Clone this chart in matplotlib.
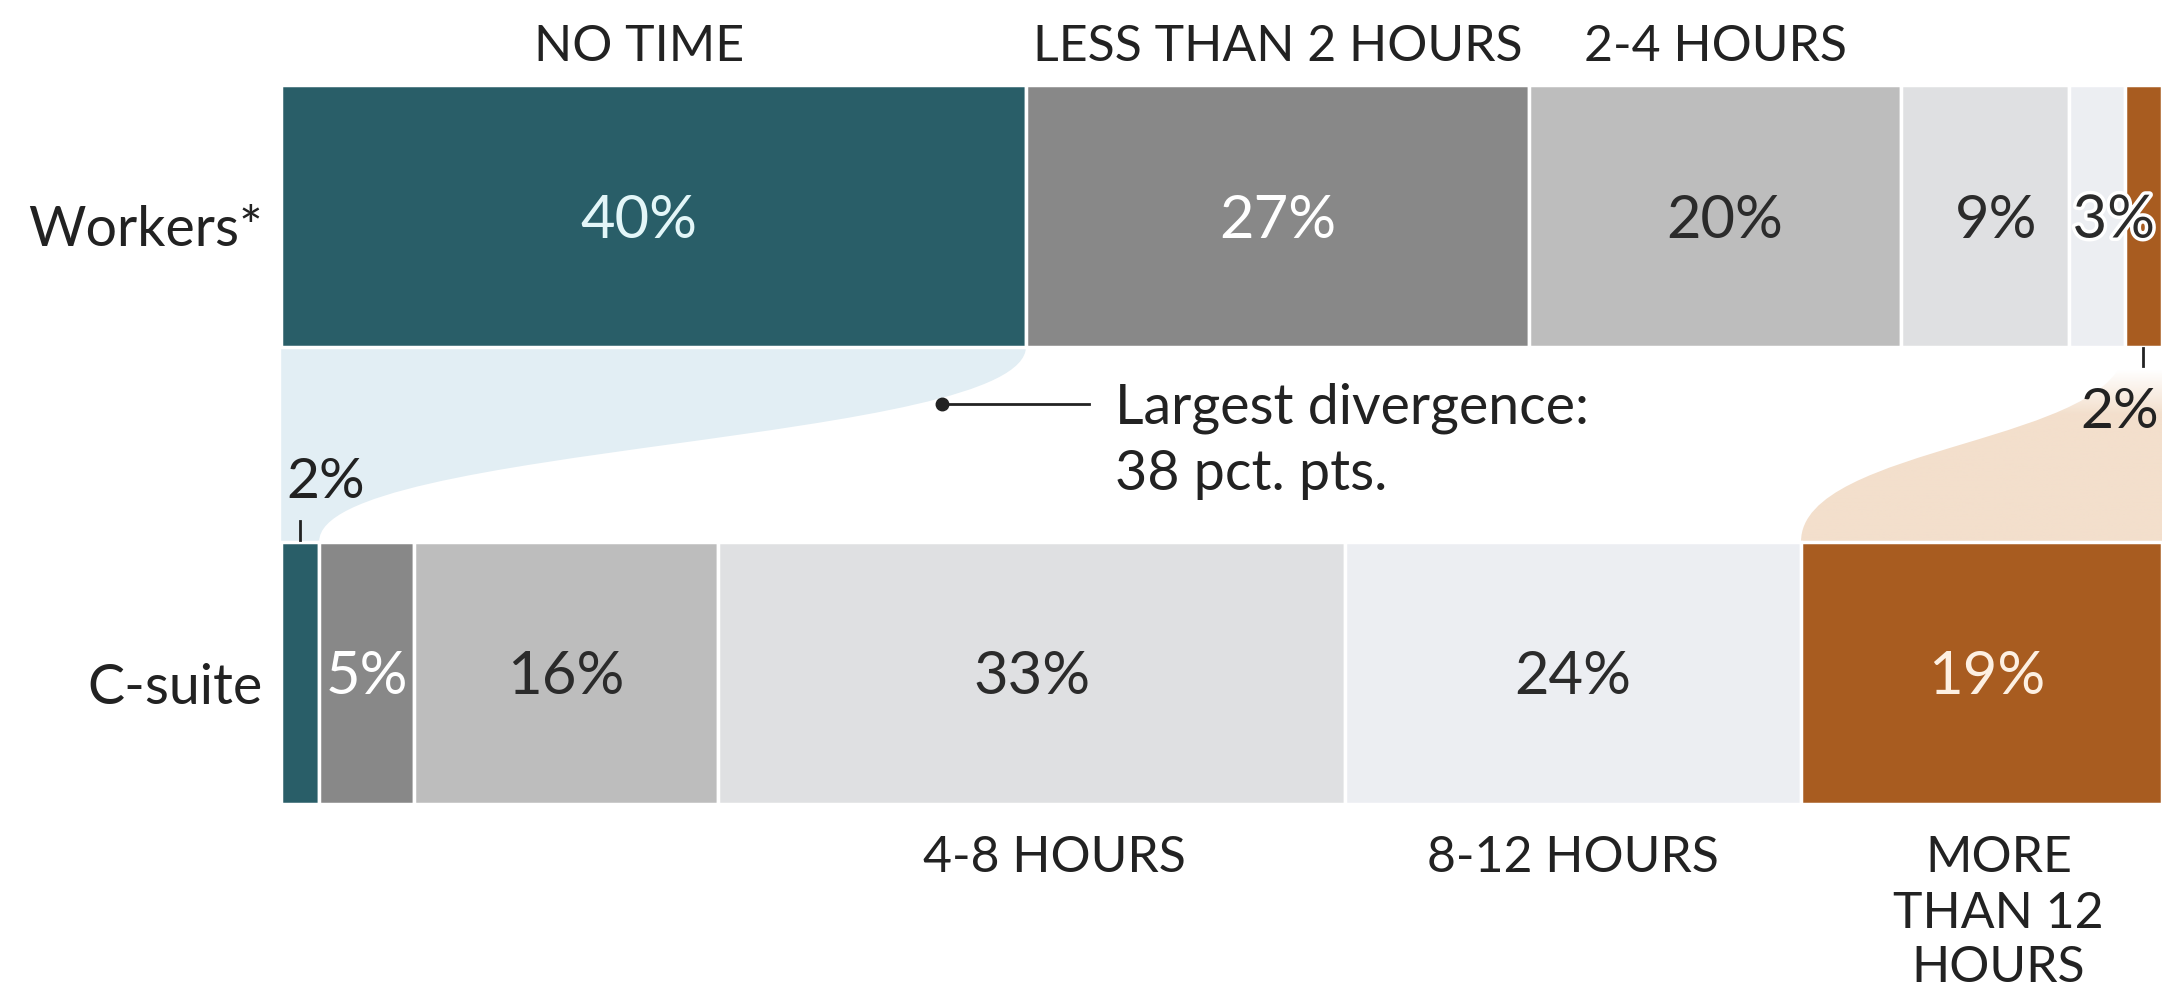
import numpy as np
import matplotlib.pyplot as plt
from matplotlib.path import Path
from matplotlib.patches import PathPatch
from matplotlib.colors import to_rgb
import matplotlib.patheffects as pe

plt.rcParams['font.family'] = ['Lato', 'DejaVu Sans']

# Données (en %)
groups = ["Workers*", "C-suite"]
categories = ["NO TIME", "LESS THAN 2 HOURS", "2-4 HOURS",
              "4-8 HOURS", "8-12 HOURS", "MORE\nTHAN 12\nHOURS"]
workers = np.array([40, 27, 20, 9, 3, 2])
csuite = np.array([2, 5, 16, 33, 24, 19])

colors = ["#295e68", "#888888", "#bdbdbd", "#dfe0e2", "#eceef2", "#a85c20"]
label_colors = ["#e3f6f8", "white", "#2b2b2b", "#2b2b2b", "#2b2b2b", "#fdf0e2"]
blue_flow = "#e2eef4"
peach_flow = "#f3dfcc"
dark = "#222222"

# mise en page (axe y en pixels, axe x en %)
W, H = 2162, 994
X0 = -14.95                 # bord gauche de la figure, en %
row_y = [215.5, 672.5]      # centres des barres
bar_h = 262

fig = plt.figure(figsize=(W / 100, H / 100), dpi=100)
ax = fig.add_axes([0, 0, 1, 1])


def px(x):
    # pixel horizontal -> coordonnée en %
    return x / (W / (100 - X0)) + X0


def ribbon(xa0, xb0, xa1, xb1, ytop, ybot, k=0.5):
    h = ybot - ytop
    verts = [(xa0, ytop), (xa0, ytop + k * h), (xa1, ybot - k * h), (xa1, ybot),
             (xb1, ybot), (xb1, ybot - k * h), (xb0, ytop + k * h), (xb0, ytop),
             (xa0, ytop)]
    codes = [Path.MOVETO, Path.CURVE4, Path.CURVE4, Path.CURVE4,
             Path.LINETO, Path.CURVE4, Path.CURVE4, Path.CURVE4, Path.CLOSEPOLY]
    return Path(verts, codes)


def lines(x, y0, txt, step, **kw):
    # une ligne de texte par appel, alignées sur leur ligne de base
    for k, s in enumerate(txt.split("\n")):
        ax.text(x, y0 + k * step, s, va="baseline", **kw)


rows = []
for i, vals in enumerate([workers, csuite]):
    shares = vals / vals.sum() * 100
    lefts = np.cumsum(shares) - shares
    rows.append((vals, shares, lefts))
    ax.barh(row_y[i], shares, left=lefts, height=bar_h, color=colors,
            edgecolor="white", linewidth=2.5, zorder=2)

top_bottom = row_y[0] + bar_h / 2
bot_top = row_y[1] - bar_h / 2

# flux "NO TIME"
(_, sw, lw_), (_, sc, lc) = rows
p = ribbon(lw_[0], lw_[0] + sw[0], lc[0], lc[0] + sc[0], top_bottom, bot_top)
ax.add_patch(PathPatch(p, facecolor=blue_flow, edgecolor="none", zorder=1))

# flux "MORE THAN 12 HOURS" (dégradé)
p = ribbon(lw_[5], lw_[5] + sw[5], lc[5], lc[5] + sc[5], top_bottom, bot_top)
patch = PathPatch(p, facecolor="none", edgecolor="none")
ax.add_patch(patch)
n = 200
grad = np.zeros((n, 1, 4))
grad[..., :3] = to_rgb(peach_flow)
yy = np.linspace(top_bottom, bot_top, n)
grad[:, 0, 3] = np.clip((yy - 370) / 45, 0, 1)
im = ax.imshow(grad, extent=(lc[5], 101, bot_top, top_bottom), aspect="auto",
               origin="upper", zorder=1)
im.set_clip_path(patch)

# étiquettes des segments
nudge = [[-0.8, 0, 0.5, 0.6, 0.9, 0], [0, 0, 0, 0, 0, 0.3]]
for i, (vals, shares, lefts) in enumerate(rows):
    for j, v in enumerate(vals):
        if v < 3:
            continue
        t = ax.text(lefts[j] + shares[j] / 2 + nudge[i][j], row_y[i] + 22, f"{v}%",
                    ha="center", va="baseline", fontsize=43, color=label_colors[j], zorder=3)
        if shares[j] < 4:
            t.set_path_effects([pe.withStroke(linewidth=5, foreground="white")])

# petites valeurs de 2 %
xc = lc[0] + sc[0] / 2
ax.plot([xc, xc], [bot_top - 21, bot_top - 2], color=dark, lw=2, zorder=3)
ax.text(lc[0] + 0.25, bot_top - 43, f"{csuite[0]}%", ha="left", va="baseline",
        fontsize=41, color=dark, zorder=3)
xw = lw_[5] + sw[5] / 2
ax.plot([xw, xw], [top_bottom + 1, top_bottom + 19], color=dark, lw=2, zorder=3)
ax.text(px(2159), top_bottom + 82, f"{workers[5]}%", ha="right", va="baseline",
        fontsize=41, color=dark, zorder=3)

# noms des lignes
for i, g in enumerate(groups):
    ax.text(px(263), row_y[i] + 31, g, ha="right", va="baseline",
            fontsize=40, color=dark)

# catégories
cat_nudge = [-0.8, 0, 0, 1.2, 0, 0.9]
for j, c in enumerate(categories):
    if j < 3:
        x = lw_[j] + sw[j] / 2 + cat_nudge[j]
        lines(x, row_y[0] - bar_h / 2 - 23.5, c, 56, ha="center",
              fontsize=36, color=dark)
    else:
        x = lc[j] + sc[j] / 2 + cat_nudge[j]
        lines(x, row_y[1] + bar_h / 2 + 69, c, 55, ha="center",
              fontsize=36, color=dark)

# annotation
ax.plot([px(942), px(1089)], [404, 404], color=dark, lw=2, zorder=3)
ax.plot(px(942), 404, "o", ms=9, color=dark, zorder=3)
lines(px(1115), 423, f"Largest divergence:\n{workers[0] - csuite[0]} pct. pts.", 67,
      ha="left", fontsize=40, color=dark)

ax.set_xlim(X0, 100)
ax.set_ylim(H, 0)
ax.axis("off")

fig.savefig("out.png", dpi=100, facecolor="white")
